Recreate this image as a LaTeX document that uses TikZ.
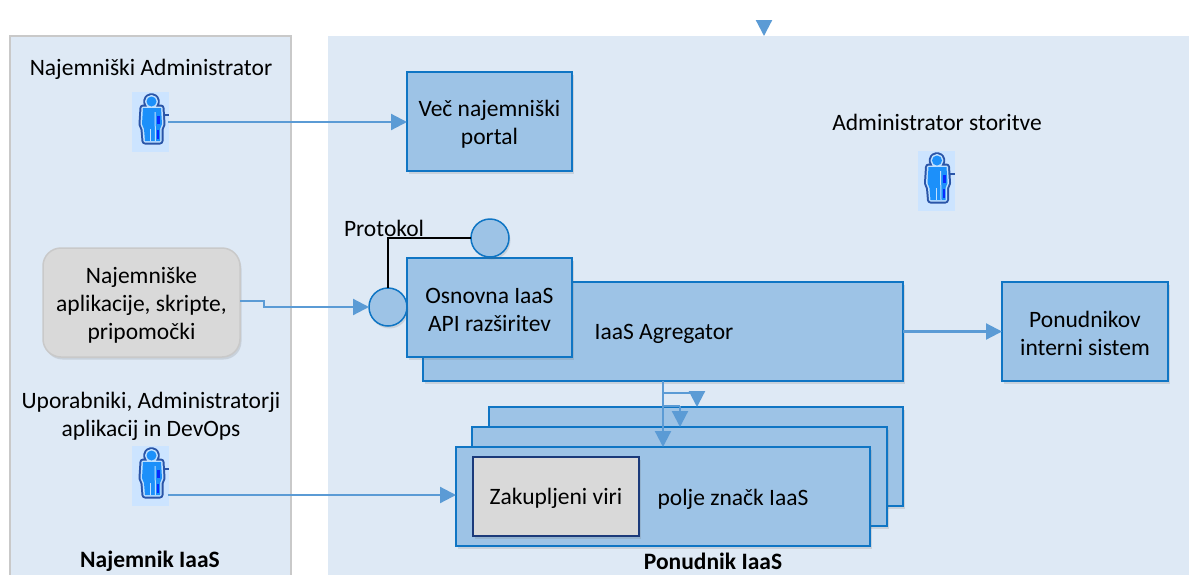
\documentclass[tikz,border=0pt]{standalone}
\usepackage{fontspec}
\setmainfont{Carlito}
\usetikzlibrary{arrows.meta,shadows,calc}
\definecolor{panelfill}{HTML}{DEE9F5}
\definecolor{boxfill}{HTML}{9DC3E6}
\definecolor{boxline}{HTML}{0F75C4}
\definecolor{arrowblue}{HTML}{5B9BD5}
\definecolor{greyfill}{HTML}{D9D9D9}
\definecolor{greyline}{HTML}{C9C9C9}
\definecolor{navy}{HTML}{1B3A7A}
\definecolor{iconbg}{HTML}{CCE4FF}
\definecolor{iconblue}{HTML}{1C90FA}
\definecolor{iconline}{HTML}{2A55A8}
\definecolor{iconlight}{HTML}{BFE0FF}
\newcommand{\tstrut}{\rule{0pt}{21pt}}
\tikzset{
  every node/.append style={outer sep=0pt},
  softshadow/.style={drop shadow={shadow xshift=1.5pt,shadow yshift=-2.5pt,opacity=.18,fill=black!60}},
  panel/.style={draw=none,fill=panelfill,anchor=north west,inner sep=0pt},
  bluebox/.style={draw=boxline,fill=boxfill,line width=1.5pt,anchor=north west,inner sep=0pt,align=center,softshadow},
  portcircle/.style={circle,draw=boxline,fill=boxfill,line width=1.5pt,minimum size=38pt,inner sep=0pt,softshadow},
  conn/.style={draw=arrowblue,line width=2.2pt,-{Triangle[length=16pt,width=16pt,fill=arrowblue]}},
  branch/.style={draw=arrowblue,line width=2.2pt},
  lbl/.style={inner sep=0pt,align=center},
  personbox/.style={fill=iconbg,draw=none,minimum width=37pt,minimum height=60pt,inner sep=0pt}
}
\newcommand{\personpath}{(19.5,9.5) circle (5pt)
    (11,16) -- (29,16) -- (30,32) -- (28,37) -- (28,49) -- (13,49) -- (12,37) -- (10,32) -- cycle}
\newcommand{\persongl}[1]{%
  \begin{scope}[shift={(#1.north west)}]
    \draw[iconline,line width=1.4pt] (31,23) -- (37,23);
    \draw[iconline,line width=7pt,line join=round] \personpath;
    \draw[iconlight,line width=3pt,line join=round] \personpath;
    \fill[iconblue] \personpath;
    \fill[iconlight] (22.5,20) -- (23.5,20) -- (24,49) -- (23,49) -- cycle;
    \fill[iconlight] (18,37) rectangle (19,49);
    \fill[blue!70!iconblue] (25,24) rectangle (28,32);
    \fill[blue!70!iconblue] (25,38) rectangle (27,47);
  \end{scope}}
\begin{document}
\begin{tikzpicture}[x=1pt,y=-1pt,every node/.append style={font=\fontsize{23.5}{28}\selectfont}]
\useasboundingbox (0,0) rectangle (1189,574);
% panels
\node[panel,draw=greyline,line width=1.6pt,minimum width=281pt,minimum height=545pt] (tenant) at (10,36) {};
\node[panel,minimum width=861pt,minimum height=545pt] (provider) at (328,36) {};
% marker at top
\coordinate (marker) at (764,20);
\draw[conn] (marker) -- (marker |- provider.north);
% boxes
\node[bluebox,minimum width=165pt,minimum height=99pt] (portal) at (407,72) {\tstrut Več najemniški\\portal};
\node[bluebox,minimum width=480pt,minimum height=99pt] (agg) at (423,282) {};
\node[lbl] (agglabel) at (664,334) {IaaS Agregator};
\node[bluebox,minimum width=165pt,minimum height=99pt] (api) at (407,258) {\tstrut Osnovna IaaS\\API razširitev};
\node[bluebox,minimum width=166pt,minimum height=99pt] (internal) at (1002,282) {\tstrut Ponudnikov\\interni sistem};
\node[portcircle] (ctop) at (490,238) {};
\node[portcircle] (cleft) at (388,307) {};
\draw[black,line width=1.5pt] (cleft.north) |- (ctop.west);
\node[lbl,anchor=west] (protocol) at (344,228) {Protokol};
% stack
\node[bluebox,minimum width=414pt,minimum height=99pt] (stackc) at (489,407) {};
\node[bluebox,minimum width=415pt,minimum height=99pt] (stackb) at (472,427) {};
\node[bluebox,minimum width=414pt,minimum height=99pt] (stacka) at (456,447) {};
\node[draw=navy,fill=greyfill,line width=1.5pt,anchor=north west,minimum width=166pt,minimum height=79pt,inner sep=0pt,softshadow] (leased) at (473,457) {\tstrut Zakupljeni viri};
\node[lbl] (fieldlabel) at (733,499) {polje značk IaaS};
% grey app box
\node[draw=greyline,fill=greyfill,line width=1.5pt,rounded corners=18pt,anchor=north west,minimum width=197pt,minimum height=109pt,inner sep=0pt,align=center,softshadow] (apps) at (43,248) {\tstrut Najemniške\\aplikacije, skripte,\\pripomočki};
% persons
\node[personbox] (p1) at (150.5,122) {};
\persongl{p1}
\node[personbox] (p2) at (150.5,476) {};
\persongl{p2}
\node[personbox] (p3) at (936,181) {};
\persongl{p3}
% labels
\node[lbl] (l1) at (151,69) {Najemniški Administrator};
\node[lbl] (l2) at (151,416) {Uporabniki, Administratorji\\aplikacij in DevOps};
\node[lbl] (l3) at (937,122) {Administrator storitve};
\node[lbl,font=\fontsize{23.5}{28}\selectfont\bfseries] (t1) at (150,561.5) {Najemnik IaaS};
\node[lbl,font=\fontsize{23.5}{28}\selectfont\bfseries] (t2) at (713,561.5) {Ponudnik IaaS};
% connectors
\coordinate (p1out) at (168,122);
\draw[conn] (p1out) -- (p1out -| portal.west);
\coordinate (p2out) at (168,495);
\draw[conn] (p2out) -- (p2out -| stacka.west);
\draw[conn] (agg.east) -- (internal.west);
\coordinate (appsout) at (240,301);
\coordinate (bendA) at (264,301);
\draw[conn] (appsout) -- (bendA) -- (bendA |- cleft.west) -- (cleft.west);
\coordinate (aggout) at (663,381);
\draw[conn] (aggout) -- (aggout |- stacka.north);
\coordinate (b1) at (663,393);
\coordinate (b1e) at (697,393);
\coordinate (b2) at (663,406);
\coordinate (b2e) at (680,406);
\draw[branch] (b1) -- (b1e);
\draw[conn] (b1e) -- (b1e |- stackc.north);
\draw[branch] (b2) -- (b2e);
\draw[conn] (b2e) -- (b2e |- stackb.north);
\end{tikzpicture}
\end{document}
